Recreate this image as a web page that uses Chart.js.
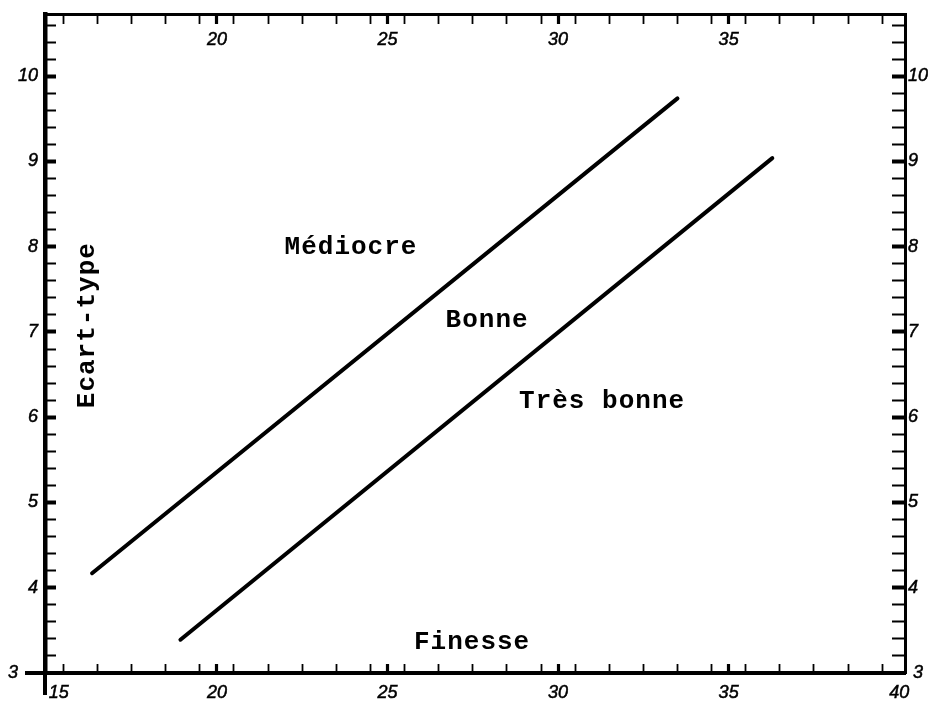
<!DOCTYPE html>
<html><head><meta charset="utf-8">
<script src="https://cdn.jsdelivr.net/npm/chart.js@4/dist/chart.umd.min.js"></script>
<style>html,body{margin:0;padding:0;background:#fff}#wrap{width:928px;height:702px}</style>
</head><body><div id="wrap"><canvas id="c" width="928" height="702"></canvas></div>
<script>
// ---- data ----
const xLabelValues = [15, 20, 25, 30, 35, 40];
const xTopLabelValues = [20, 25, 30, 35];
const xMajorValues = [20, 25, 30, 35];
const yLabelValues = [3, 4, 5, 6, 7, 8, 9, 10];
const lineMediocreX = [16.34, 33.50];
const lineMediocreY = [4.17, 9.74];
const lineTresBonneX = [18.93, 36.28];
const lineTresBonneY = [3.39, 9.04];
const regionNames = ['Médiocre', 'Bonne', 'Très bonne'];
const xTitle = 'Finesse';
const yTitle = 'Ecart-type';

// ---- layout / style ----
const X_MIN = 14.96, X_MAX = 40.17, Y_MIN = 3, Y_MAX = 10.73;
const tickFont = {family: 'Liberation Sans', style: 'italic', size: 18};
const textFont = 'bold 26px "Liberation Mono"';
const annotations = [
  {text: regionNames[0], x: 23.93, y: 7.99, rot: 0},
  {text: regionNames[1], x: 27.92, y: 7.14, rot: 0},
  {text: regionNames[2], x: 31.29, y: 6.18, rot: 0},
  {text: xTitle, x: 27.48, y: 3.36, rot: 0},
  {text: yTitle, x: 16.2, y: 7.08, rot: -Math.PI / 2}
];

function xTickValues() {
  const v = [15];
  for (let i = 15; i < 40; i++) {
    v.push(i + 0.5);
    if (xMajorValues.includes(i + 1)) v.push(i + 1);
  }
  v.push(40);
  return v;
}
function yTickValues() {
  const v = [];
  for (let k = 0; k <= 38; k++) v.push(Math.round((3 + k * 0.2) * 10) / 10);
  return v;
}
const near = (a, b) => Math.abs(a - b) < 1e-6;
const isXMajor = v => xMajorValues.some(m => near(m, v));
const isYMajor = v => Math.abs(v - Math.round(v)) < 1e-6;

function xGrid(len) {
  return {
    drawOnChartArea: false, drawTicks: true, tickLength: len,
    tickWidth: c => isXMajor(c.tick.value) ? 3.2 : 1.8,
    tickColor: c => (near(c.tick.value, 15) || near(c.tick.value, 40)) ? 'rgba(0,0,0,0)' : '#000'
  };
}
function yGrid(len) {
  return {
    drawOnChartArea: false, drawTicks: true, tickLength: len,
    tickWidth: c => isYMajor(c.tick.value) ? 4 : 2,
    tickColor: c => near(c.tick.value, 3) ? 'rgba(0,0,0,0)' : '#000'
  };
}
function fixSize(prop, val) {
  return s => { s[prop] = val; s.paddingLeft = s.paddingRight = s.paddingTop = s.paddingBottom = 0; };
}

const extraLines = {
  id: 'extraLines',
  afterDraw(chart) {
    const {ctx, chartArea: a} = chart;
    ctx.save();
    ctx.strokeStyle = '#000';
    ctx.lineWidth = 4;
    ctx.beginPath();
    ctx.moveTo(a.left, a.bottom); ctx.lineTo(a.left, a.bottom + 22);
    ctx.moveTo(a.left, a.bottom); ctx.lineTo(a.left - 20, a.bottom);
    ctx.stroke();
    // annotation texts, placed in data coordinates
    const xs = chart.scales.x, ys = chart.scales.y;
    ctx.fillStyle = '#000';
    ctx.font = textFont;
    ctx.letterSpacing = '1px';
    ctx.textAlign = 'center';
    ctx.textBaseline = 'middle';
    annotations.forEach(t => {
      ctx.save();
      ctx.translate(xs.getPixelForValue(t.x), ys.getPixelForValue(t.y));
      ctx.rotate(t.rot);
      ctx.fillText(t.text, 0, 0);
      ctx.restore();
    });
    ctx.restore();
  }
};

const toPts = (xs, ys) => xs.map((x, i) => ({x, y: ys[i]}));
const tickCommon = {autoSkip: false, font: tickFont, color: '#000', textStrokeColor: '#000', textStrokeWidth: 0.5};

new Chart(document.getElementById('c'), {
  type: 'scatter',
  data: {
    datasets: [
      {label: 'Médiocre / Bonne', data: toPts(lineMediocreX, lineMediocreY), showLine: true,
       borderColor: '#000', borderWidth: 4, borderCapStyle: 'round', pointRadius: 0, xAxisID: 'x', yAxisID: 'y'},
      {label: 'Bonne / Très bonne', data: toPts(lineTresBonneX, lineTresBonneY), showLine: true,
       borderColor: '#000', borderWidth: 4, borderCapStyle: 'round', pointRadius: 0, xAxisID: 'x', yAxisID: 'y'}
    ]
  },
  options: {
    responsive: false, animation: false, devicePixelRatio: 1,
    layout: {padding: 0},
    plugins: {legend: {display: false}, tooltip: {enabled: false}},
    scales: {
      x: {
        type: 'linear', position: 'bottom', min: X_MIN, max: X_MAX,
        afterBuildTicks: s => { s.ticks = xTickValues().map(v => ({value: v})); },
        afterFit: fixSize('height', 29),
        grid: xGrid(-9),
        border: {display: true, width: 4, color: '#000'},
        ticks: Object.assign({}, tickCommon, {
          maxRotation: 0, padding: 18,
          callback: v => near(v, 15) ? '     15' : (xLabelValues.some(l => near(l, v)) ? String(v) : '')
        })
      },
      x2: {
        type: 'linear', position: 'top', min: X_MIN, max: X_MAX,
        afterBuildTicks: s => { s.ticks = xTickValues().map(v => ({value: v})); },
        afterFit: fixSize('height', 14),
        grid: xGrid(-10),
        border: {display: true, width: 3, color: '#000'},
        ticks: Object.assign({}, tickCommon, {
          maxRotation: 0, mirror: true, padding: 15,
          callback: v => xTopLabelValues.some(l => near(l, v)) ? String(v) : ''
        })
      },
      y: {
        type: 'linear', position: 'left', min: Y_MIN, max: Y_MAX,
        afterBuildTicks: s => { s.ticks = yTickValues().map(v => ({value: v})); },
        afterFit: fixSize('width', 45),
        grid: yGrid(-11),
        border: {display: true, width: 4.5, color: '#000'},
        ticks: Object.assign({}, tickCommon, {
          padding: 18,
          callback: v => near(v, 3) ? '3    ' : (yLabelValues.some(l => near(l, v)) ? String(Math.round(v)) : '')
        })
      },
      y2: {
        type: 'linear', position: 'right', min: Y_MIN, max: Y_MAX,
        afterBuildTicks: s => { s.ticks = yTickValues().map(v => ({value: v})); },
        afterFit: fixSize('width', 23),
        grid: yGrid(-13),
        border: {display: true, width: 3, color: '#000'},
        ticks: Object.assign({}, tickCommon, {
          padding: 16,
          callback: v => near(v, 3) ? ' 3' : (yLabelValues.some(l => near(l, v)) ? String(Math.round(v)) : '')
        })
      }
    }
  },
  plugins: [extraLines]
});
</script></body></html>
